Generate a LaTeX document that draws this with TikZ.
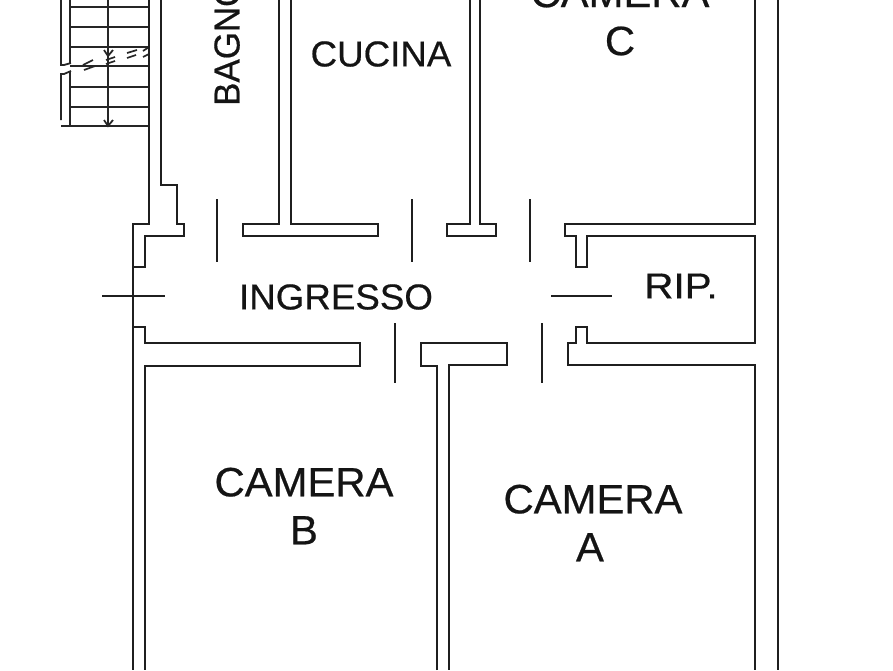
\documentclass[tikz,border=0pt]{standalone}
\usepackage{fontspec}
\setmainfont{Liberation Sans}
\newfontfamily\labfont[FakeBold=0.5]{Liberation Sans}
\tikzset{
  wall/.style={draw=black!88,line width=1.9pt,line join=miter},
  thin wall/.style={draw=black!85,line width=1.8pt},
  lbl/.style={inner sep=0pt,font=\labfont\fontsize{41}{44}\selectfont,text=black!92,align=center},
  lbs/.style={inner sep=0pt,font=\labfont\fontsize{36}{40}\selectfont,text=black!92}
}
\begin{document}
\begin{tikzpicture}[x=1pt,y=-1pt]
\useasboundingbox (0,0) rectangle (893,670);
\fill[white] (0,0) rectangle (893,670);
% stairs
\draw[thin wall] (61,0) -- (61,65) -- (64,65) -- (71,63);
\draw[thin wall] (70,0) -- (70,64);
\draw[thin wall] (70,71) -- (70,126);
\draw[thin wall] (61,120) -- (61,74) -- (64,74) -- (71,71);
\foreach \yy in {7,27,47,66,87,107,126}
  \draw[thin wall] (70,\yy) -- (149,\yy);
\draw[thin wall] (61,126) -- (70,126);
\draw[thin wall] (108,0) -- (108,126);
\draw[thin wall] (104,120) -- (108,126) -- (113,120);
\draw[thin wall] (104,50) -- (108,56) -- (113,50);
\foreach \a/\b/\c/\d in {83/65/93/60,84/70/95/66,106/60/115/57,106/64/115/61,127/53/137/50,127/58/136/55,143/51/149/47,143/57/149/54}
  \draw[line width=1.7pt,black!85] (\a,\b) -- (\c,\d);
% walls
\draw[wall] (149,0) -- (149,224) -- (133,224) -- (133,670);
\draw[wall] (161,0) -- (161,185) -- (177,185) -- (177,224) -- (184,224) -- (184,236) -- (145,236) -- (145,267) -- (133,267);
\draw[wall] (279,0) -- (279,224) -- (243,224) -- (243,236) -- (378,236) -- (378,224) -- (291,224) -- (291,0);
\draw[wall] (470,0) -- (470,224) -- (447,224) -- (447,236) -- (496,236) -- (496,224) -- (480,224) -- (480,0);
\draw[wall] (755,0) -- (755,224) -- (565,224) -- (565,236) -- (576,236) -- (576,267) -- (587,267) -- (587,236) -- (755,236) -- (755,343) -- (587,343) -- (587,327) -- (576,327) -- (576,343) -- (568,343) -- (568,365) -- (755,365) -- (755,670);
\draw[wall] (778,0) -- (778,670);
\draw[wall] (133,327) -- (145,327) -- (145,343) -- (360,343) -- (360,366) -- (145,366) -- (145,670);
\draw[wall] (437,670) -- (437,366) -- (421,366) -- (421,343) -- (507,343) -- (507,365) -- (449,365) -- (449,670);
% door swings
\draw[wall] (217,199) -- (217,262);
\draw[wall] (412,199) -- (412,262);
\draw[wall] (530,199) -- (530,262);
\draw[wall] (395,323) -- (395,383);
\draw[wall] (542,323) -- (542,383);
\draw[wall] (102,296) -- (165,296);
\draw[wall] (551,296) -- (612,296);
% labels
\node[lbl,xscale=1.02] (camc) at (620,17) {CAMERA\\[4pt]C};
\node[lbl,xscale=1.02] (camb) at (304,506) {CAMERA\\[4pt]B};
\node[lbl,xscale=1.02] (cama) at (593,523) {CAMERA\\[4pt]A\hspace*{6pt}};
\node[lbs,xscale=1.02] (cucina) at (381,54) {CUCINA};
\node[lbs,xscale=1.02] (ingresso) at (336,297) {INGRESSO};
\node[lbs,xscale=1.12] (rip) at (681,286) {RIP.};
\node[lbs,rotate=90,xscale=0.97,anchor=south west] (bagno) at (240,106) {BAGNO};
\end{tikzpicture}
\end{document}
